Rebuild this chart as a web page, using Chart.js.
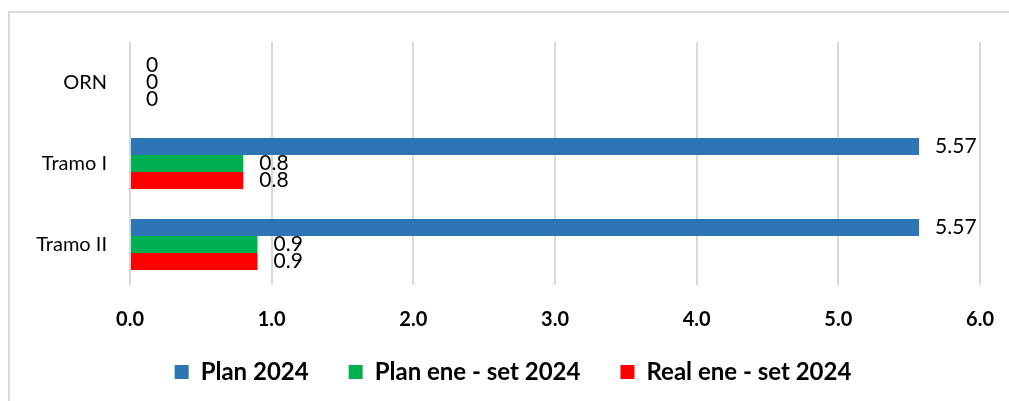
<!DOCTYPE html>
<html>
<head>
<meta charset="utf-8">
<script src="https://cdn.jsdelivr.net/npm/chart.js@4"></script>
<style>
    html, body { margin: 0; padding: 0; background: #fff; }
    #wrap { position: relative; width: 1009px; height: 401px; overflow: hidden; }
    #frame { position: absolute; left: 8px; top: 11px; width: 1100px; height: 500px; border-top: 2px solid #d9d9d9; border-left: 2px solid #d9d9d9; }
    canvas { position: absolute; left: 0; top: 0; }
</style>
</head>
<body>
<div id="wrap">
    <div id="frame"></div>
    <canvas id="chart" width="1009" height="401"></canvas>
</div>
<script>
const categories = ['ORN', 'Tramo I', 'Tramo II'];
const seriesNames = ['Plan 2024', 'Plan ene - set 2024', 'Real ene - set 2024'];
const plan2024 = [0, 5.57, 5.57];
const planEneSet2024 = [0, 0.8, 0.9];
const realEneSet2024 = [0, 0.8, 0.9];
const seriesColors = ['#2E75B6', '#00B050', '#FF0000'];

const FONT = 'Lato, "Open Sans", sans-serif';

// draws the value next to the end of each bar
const valueLabels = {
    id: 'valueLabels',
    afterDatasetsDraw(chart) {
        const ctx = chart.ctx;
        ctx.save();
        ctx.font = '21px ' + FONT;
        ctx.fillStyle = '#000';
        ctx.textAlign = 'left';
        ctx.textBaseline = 'middle';
        chart.data.datasets.forEach((ds, i) => {
            chart.getDatasetMeta(i).data.forEach((bar, j) => {
                ctx.fillText(String(ds.data[j]), bar.x + 16, bar.y);
            });
        });
        ctx.restore();
    }
};

// fixed legend height so the plot area lands where the original has it,
// then pull the legend up a bit (its padding also sets the item spacing)
const legendPlace = {
    id: 'legendPlace',
    beforeInit(chart) {
        const fit = chart.legend.fit;
        chart.legend.fit = function () {
            fit.call(this);
            this.height = 66;
        };
    },
    afterLayout(chart) {
        chart.legend.top -= 15;
        chart.legend.bottom -= 15;
        chart.legend.left += 23;
        chart.legend.right += 23;
    }
};

new Chart(document.getElementById('chart').getContext('2d'), {
    type: 'bar',
    data: {
        labels: categories,
        datasets: [
            { label: seriesNames[0], data: plan2024, backgroundColor: seriesColors[0] },
            { label: seriesNames[1], data: planEneSet2024, backgroundColor: seriesColors[1] },
            { label: seriesNames[2], data: realEneSet2024, backgroundColor: seriesColors[2] }
        ]
    },
    options: {
        indexAxis: 'y',
        responsive: false,
        animation: false,
        devicePixelRatio: 1,
        categoryPercentage: 0.63,
        barPercentage: 1,
        layout: { padding: { top: 42, right: 29, left: 0, bottom: 0 } },
        scales: {
            x: {
                min: 0,
                max: 6,
                ticks: {
                    stepSize: 1,
                    padding: 23,
                    color: '#000',
                    font: { family: FONT, size: 20, weight: 'bold' },
                    callback: v => v.toFixed(1)
                },
                grid: { color: '#d9d9d9', lineWidth: 2, drawTicks: false },
                border: { display: false },
                afterFit: s => {
                    s.height = 50;
                    s.paddingLeft = 0;
                    s.paddingRight = 0;
                }
            },
            y: {
                ticks: {
                    padding: 23,
                    color: '#000',
                    font: { family: FONT, size: 20 }
                },
                grid: { display: false, drawTicks: false },
                border: { display: false },
                afterFit: s => { s.width = 130; }
            }
        },
        plugins: {
            legend: {
                position: 'bottom',
                labels: {
                    boxWidth: 14,
                    boxHeight: 14,
                    padding: 40,
                    color: '#000',
                    font: { family: FONT, size: 24, weight: 'bold' }
                }
            },
            tooltip: { enabled: false }
        }
    },
    plugins: [valueLabels, legendPlace]
});
</script>
</body>
</html>
